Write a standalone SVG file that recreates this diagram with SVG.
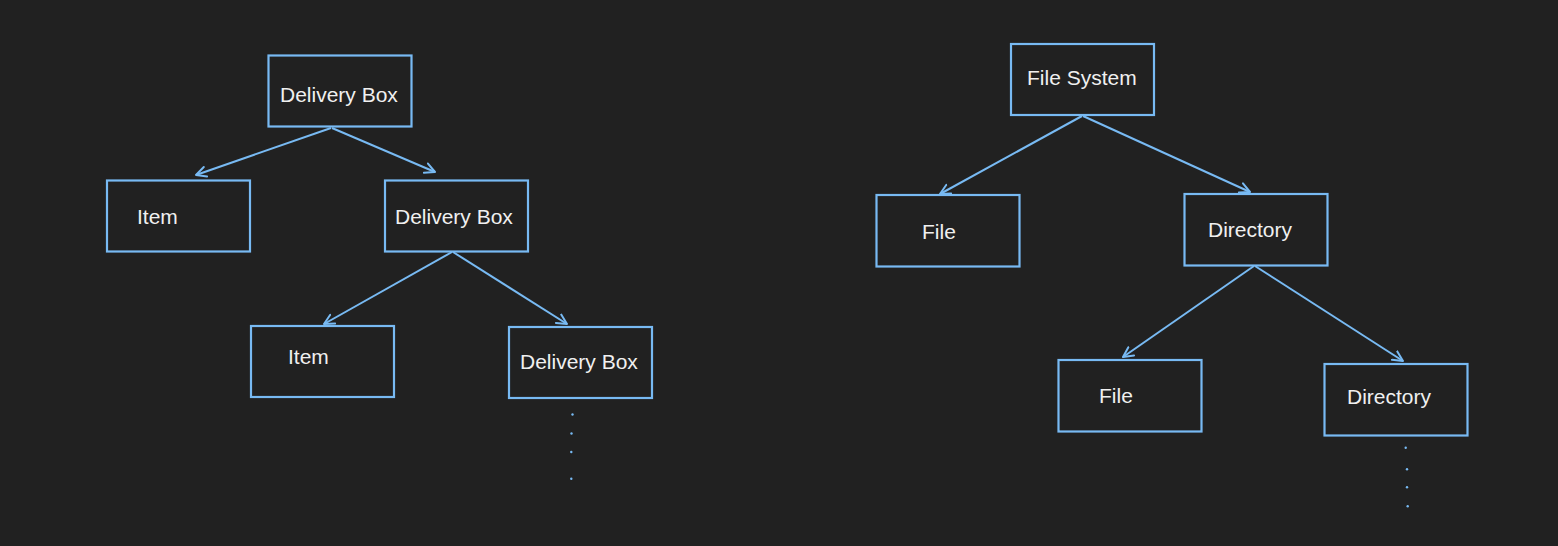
<svg xmlns="http://www.w3.org/2000/svg" width="1558" height="546" viewBox="0 0 1558 546">
<style>
.box{fill:none;stroke:#78baf3;stroke-width:2.2}
.lbl{font-family:"Liberation Sans",Arial,sans-serif;font-size:21px;fill:#f0f0f0}
.conn{fill:none;stroke:#78baf3;stroke-width:2}
.dot{fill:#78baf3}
</style>
<defs>
<marker id="arr" markerUnits="userSpaceOnUse" markerWidth="14" markerHeight="14" refX="11" refY="6" orient="auto" viewBox="0 0 14 12">
<path d="M1,1 L11,6 L1,11" fill="none" stroke="#78baf3" stroke-width="2" stroke-linecap="round" stroke-linejoin="round"/>
</marker>
</defs>
<rect width="1558" height="546" fill="#212121"/>
<g id="connectors">
<line class="conn" x1="331" y1="128" x2="196" y2="175" marker-end="url(#arr)"/>
<line class="conn" x1="332" y1="128" x2="435" y2="172" marker-end="url(#arr)"/>
<line class="conn" x1="452" y1="252" x2="324" y2="324" marker-end="url(#arr)"/>
<line class="conn" x1="453" y1="252" x2="567" y2="324" marker-end="url(#arr)"/>
<line class="conn" x1="1082" y1="116" x2="940" y2="194" marker-end="url(#arr)"/>
<line class="conn" x1="1083" y1="116" x2="1250" y2="192" marker-end="url(#arr)"/>
<line class="conn" x1="1254" y1="266" x2="1123" y2="357" marker-end="url(#arr)"/>
<line class="conn" x1="1255" y1="266" x2="1403" y2="361" marker-end="url(#arr)"/>
</g>
<g id="db1"><rect class="box" x="268.5" y="55.5" width="143" height="71"/><text class="lbl" x="280" y="101.5">Delivery Box</text></g>
<g id="item1"><rect class="box" x="107" y="180.5" width="143" height="71"/><text class="lbl" x="137" y="223.5">Item</text></g>
<g id="db2"><rect class="box" x="385" y="180.5" width="143" height="71"/><text class="lbl" x="395" y="224">Delivery Box</text></g>
<g id="item2"><rect class="box" x="251" y="326" width="143" height="71"/><text class="lbl" x="288" y="364">Item</text></g>
<g id="db3"><rect class="box" x="509" y="327" width="143" height="71"/><text class="lbl" x="520" y="368.5">Delivery Box</text></g>
<g id="dots1"><circle class="dot" cx="572.5" cy="414.5" r="1.2"/><circle class="dot" cx="571.5" cy="433.5" r="1.2"/><circle class="dot" cx="571.3" cy="452" r="1.2"/><circle class="dot" cx="571.3" cy="478.7" r="1.2"/></g>
<g id="fs"><rect class="box" x="1011" y="44" width="143" height="71"/><text class="lbl" x="1027" y="85">File System</text></g>
<g id="file1"><rect class="box" x="876.5" y="195" width="143" height="71.5"/><text class="lbl" x="922" y="239">File</text></g>
<g id="dir1"><rect class="box" x="1184.5" y="194" width="143" height="71.5"/><text class="lbl" x="1208" y="237">Directory</text></g>
<g id="file2"><rect class="box" x="1058.5" y="360" width="143" height="71.5"/><text class="lbl" x="1099" y="402.5">File</text></g>
<g id="dir2"><rect class="box" x="1324.5" y="364" width="143" height="71.5"/><text class="lbl" x="1347" y="404">Directory</text></g>
<g id="dots2"><circle class="dot" cx="1405.7" cy="447.7" r="1.2"/><circle class="dot" cx="1407" cy="469.3" r="1.2"/><circle class="dot" cx="1407" cy="487.3" r="1.2"/><circle class="dot" cx="1407.7" cy="506.3" r="1.2"/></g>
</svg>
